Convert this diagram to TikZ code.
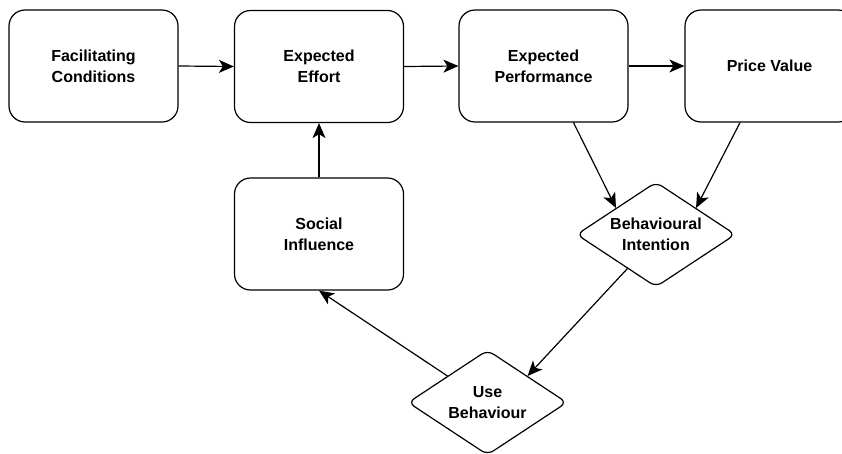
\documentclass[tikz,border=0pt]{standalone}
\usepackage{fontspec}
\setmainfont{Liberation Sans}
\usepackage{tikz}
\usetikzlibrary{shapes.geometric,arrows.meta}
\tikzset{%
  boxnode/.style  = {shape=rectangle, rounded corners=16pt,%
                     draw, align=center, line width=1.2pt,%
                     minimum width=169pt, minimum height=112pt},%
  decision/.style = {shape=diamond, rounded corners=7pt, aspect=1.5,%
                     draw, align=center, inner sep=0pt, line width=1.2pt,%
                     minimum width=159pt, minimum height=105pt},%
  link/.style     = {line width=1.2pt, -{Stealth[length=15pt,width=13pt,inset=4pt]}}%
}

\begin{document}
\begin{tikzpicture}[x=1pt,y=-1pt,
		every node/.style = {font=\bfseries\fontsize{16}{21}\selectfont}]
		\useasboundingbox (0,0) rectangle (842,453);
		% top row
		\node [boxnode] (fc) at (93.5,66)  {Facilitating\\Conditions};
		\node [boxnode] (ee) at (319,66.5) {Expected\\Effort};
		\node [boxnode] (ep) at (543.5,66) {Expected\\Performance};
		\node [boxnode] (pv) at (769.5,66) {Price Value};
		% lower part
		\node [boxnode] (si) at (319,234)   {Social\\Influence};
		\node [decision] (bi) at (656,234.5) {Behavioural\\Intention};
		\node [decision] (ub) at (487.5,402.5) {Use\\Behaviour};
		\draw[link] (fc.east) -- (ee.west);
		\draw[link] (ee.east) -- (ep.west);
		\draw[link] (ep.east) -- (pv.west);
		\draw[link] (si.north) -- (ee.south);
		\draw[link] ([xshift=30pt]ep.south) -- (bi.north west);
		\draw[link] ([xshift=-29.5pt]pv.south) -- (bi.north east);
		\draw[link] (bi.230) -- (ub.north east);
		\draw[link] (ub.north west) -- (si.south);
		\end{tikzpicture}
\end{document}
